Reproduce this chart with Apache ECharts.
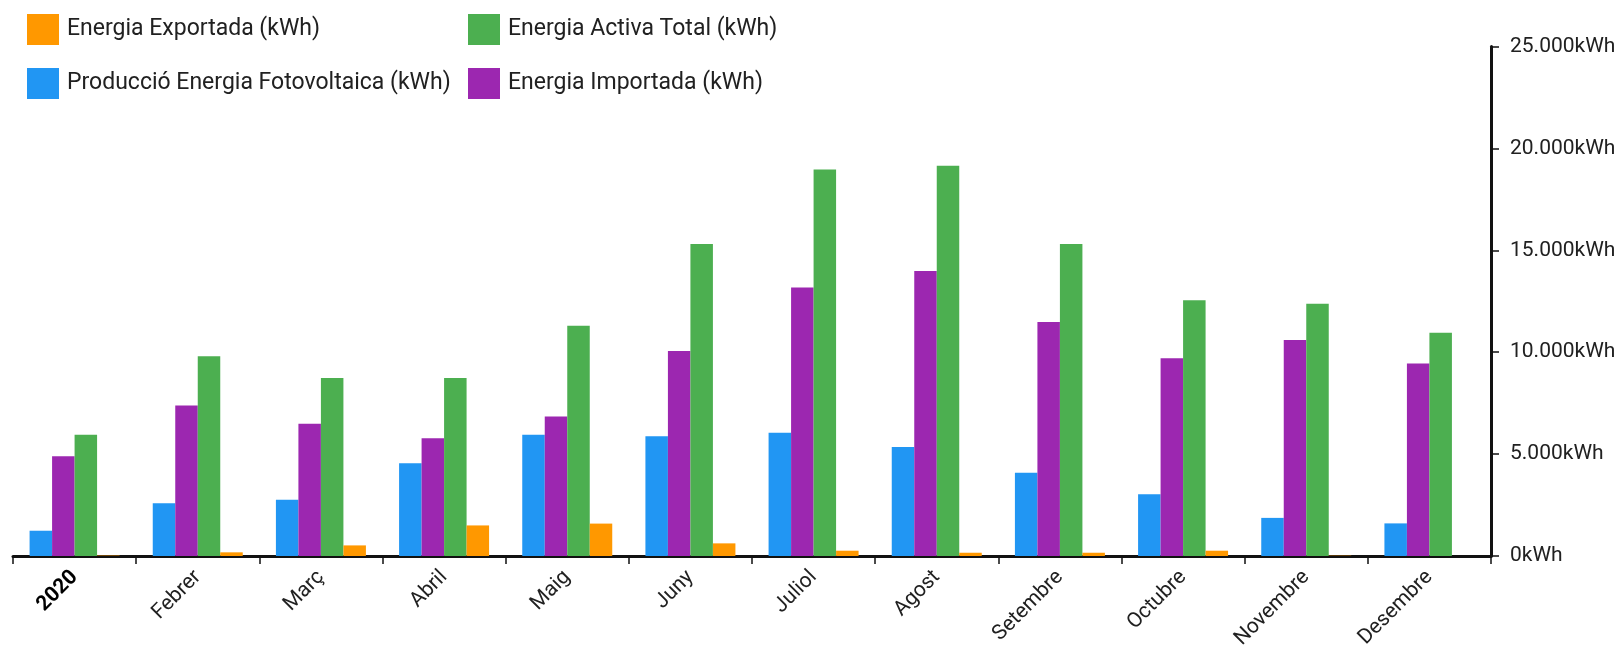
<!DOCTYPE html>
<html>
<head>
<meta charset="utf-8">
<title>Energia 2020</title>
<script src="https://cdn.jsdelivr.net/npm/echarts@6/dist/echarts.min.js"></script>
<style>
  html, body { margin: 0; padding: 0; background: #ffffff; }
  #chart { width: 1624px; height: 645px; }
</style>
</head>
<body>
<div id="chart"></div>
<script>
// Monthly energy figures for 2020 (kWh)
const months = ['2020', 'Febrer', 'Març', 'Abril', 'Maig', 'Juny', 'Juliol', 'Agost', 'Setembre', 'Octubre', 'Novembre', 'Desembre'];

const produccioFV = [1240, 2590, 2760, 4550, 5950, 5870, 6050, 5350, 4090, 3030, 1870, 1600];
const importada   = [4890, 7380, 6490, 5780, 6850, 10060, 13180, 13990, 11480, 9700, 10600, 9440];
const activaTotal = [5950, 9800, 8740, 8740, 11300, 15310, 18970, 19150, 15310, 12550, 12380, 10960];
const exportada   = [20, 180, 520, 1500, 1590, 620, 260, 160, 160, 260, 15, 0];

const yTicks = { min: 0, max: 25000, interval: 5000 };

const names = {
  exp: 'Energia Exportada (kWh)',
  act: 'Energia Activa Total (kWh)',
  prod: 'Producció Energia Fotovoltaica (kWh)',
  imp: 'Energia Importada (kWh)'
};

const colors = {
  prod: '#2196F3',
  imp: '#9C27B0',
  act: '#4CAF50',
  exp: '#FF9800'
};

const FONT = 'Roboto, "Noto Sans", sans-serif';
const TEXT = '#212121';

function fmtKwh(v) {
  return String(v).replace(/\B(?=(\d{3})+(?!\d))/g, '.') + 'kWh';
}

function bar(key, data) {
  return {
    name: names[key],
    type: 'bar',
    data: data,
    barWidth: 22.5,
    barGap: '0%',
    itemStyle: { color: colors[key] },
    emphasis: { disabled: true }
  };
}

const legendBase = {
  orient: 'vertical',
  top: 14,
  padding: 0,
  itemWidth: 32,
  itemHeight: 31,
  itemGap: 23,
  icon: 'rect',
  selectedMode: false,
  textStyle: { fontFamily: FONT, fontSize: 23, color: TEXT, padding: [10, 0, 0, 3] }
};

const chart = echarts.init(document.getElementById('chart'), null, { renderer: 'canvas' });

chart.setOption({
  animation: false,
  backgroundColor: '#ffffff',
  legend: [
    Object.assign({}, legendBase, { left: 27, data: [names.exp, names.prod] }),
    Object.assign({}, legendBase, { left: 468, data: [names.act, names.imp] })
  ],
  grid: { left: 13, right: 133, top: 46.5, bottom: 89, containLabel: false, outerBoundsMode: 'none' },
  xAxis: {
    type: 'category',
    data: months,
    boundaryGap: true,
    axisLine: { show: true, lineStyle: { color: '#111', width: 3 } },
    axisTick: { show: true, alignWithLabel: false, length: 8, lineStyle: { color: '#111', width: 1.5 } },
    axisLabel: {
      rotate: 45,
      margin: 18,
      fontFamily: FONT,
      fontSize: 21,
      color: TEXT,
      interval: 0,
      hideOverlap: false,
      formatter: function (value, index) {
        return index === 0 ? '{b|' + value + '}' : value;
      },
      rich: { b: { fontWeight: 'bold', fontFamily: FONT, fontSize: 21, color: '#000' } }
    },
    splitLine: { show: false }
  },
  yAxis: {
    type: 'value',
    position: 'right',
    min: yTicks.min,
    max: yTicks.max,
    interval: yTicks.interval,
    axisLine: { show: true, lineStyle: { color: '#111', width: 3 } },
    axisTick: { show: true, inside: false, length: 8, lineStyle: { color: '#111', width: 1.5 } },
    axisLabel: {
      margin: 19,
      fontFamily: FONT,
      fontSize: 21,
      color: TEXT,
      formatter: fmtKwh
    },
    splitLine: { show: false }
  },
  series: [
    bar('prod', produccioFV),
    bar('imp', importada),
    bar('act', activaTotal),
    bar('exp', exportada)
  ]
});
</script>
</body>
</html>
